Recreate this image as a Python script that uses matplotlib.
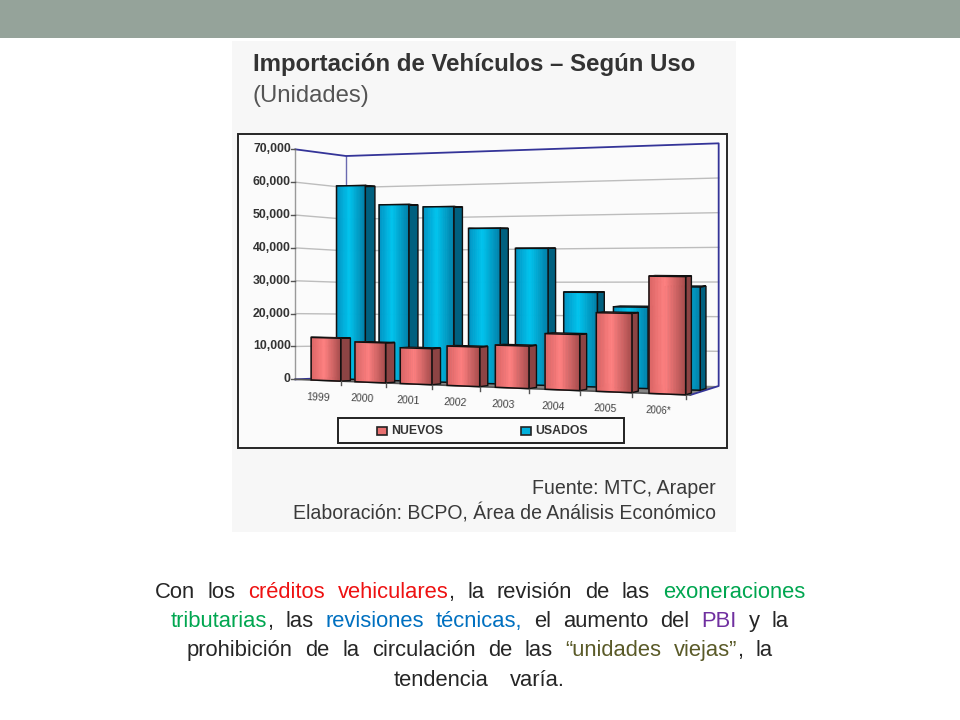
import numpy as np
import matplotlib
matplotlib.use("Agg")
import matplotlib.pyplot as plt
from matplotlib.patches import Polygon, Rectangle
from matplotlib.colors import to_rgb

plt.rcParams['font.family'] = ['Liberation Sans', 'DejaVu Sans']

years = ['1999', '2000', '2001', '2002', '2003', '2004', '2005', '2006*']
nuevos = [12900, 11900, 10600, 11500, 12200, 15900, 22200, 32700]
usados = [59600, 53600, 52800, 46200, 40200, 27400, 23300, 29200]
y_ticks = [0, 10000, 20000, 30000, 40000, 50000, 60000, 70000]
YMAX = 70000

fig = plt.figure(figsize=(9.6, 7.2), dpi=100, facecolor='white')
ax = fig.add_axes([0, 0, 1, 1])
ax.set_xlim(0, 960)
ax.set_ylim(720, 0)
ax.axis('off')


def cat(i):
    """Perspective position of a category along the floor (0..1)."""
    return .04 + .1091 * i + .00187 * i * i


def proj(t, v, w):
    """Category position t, value v, depth w -> canvas position."""
    xf, xb = 190 + 1185 * t, 342 + 1118 * t
    yf, yb = 748 + 47 * t, 742 + 26 * t
    hf, hb = 690 + 70 * t, 664 + 64 * t
    x = xf + (xb - xf) * w
    y0 = yf + (yb - yf) * w
    h = hf + (hb - hf) * w
    return 232 + x / 3, 130 + (y0 - h * v / YMAX) / 3


def shade(c1, c2, c3, f):
    c1, c2, c3 = map(np.array, (to_rgb(c1), to_rgb(c2), to_rgb(c3)))
    if f < .45:
        return c1 + (c2 - c1) * f / .45
    return c2 + (c3 - c2) * (f - .45) / .55


def bar3d(i, val, w0, cols, side, top):
    t0, t1 = cat(i), cat(i + .68)
    w1 = w0 + .2
    base = 3 + i * .01 + (2 if w0 == 0 else 0)
    ax.add_patch(Polygon([proj(t1, 0, w0), proj(t1, val, w0), proj(t1, val, w1), proj(t1, 0, w1)],
                         fc=side, ec='#101010', lw=1.0, zorder=base))
    ax.add_patch(Polygon([proj(t0, val, w0), proj(t1, val, w0), proj(t1, val, w1), proj(t0, val, w1)],
                         fc=top, ec='#101010', lw=1.0, zorder=base))
    n = 24
    z = base + .001
    for k in range(n):
        a = t0 + (t1 - t0) * k / n
        b = t0 + (t1 - t0) * (k + 1) / n
        col = shade(*cols, (k + .5) / n)
        ax.add_patch(Polygon([proj(a, 0, w0), proj(a, val, w0), proj(b, val, w0), proj(b, 0, w0)],
                             fc=col, ec=col, lw=.6, zorder=z))
    ax.add_patch(Polygon([proj(t0, 0, w0), proj(t0, val, w0), proj(t1, val, w0), proj(t1, 0, w0)],
                         fc='none', ec='#101010', lw=1.1, zorder=z + .001))


# slide furniture
ax.add_patch(Rectangle((0, 0), 960, 38, fc='#95a39a', ec='none'))
ax.add_patch(Rectangle((232, 41), 504, 491, fc='#f7f7f7', ec='none'))
ax.add_patch(Rectangle((238, 134), 489, 314, fc='#fbfbfb', ec='#262626', lw=1.4))

ax.text(253, 64, 'Importación de Vehículos – Según Uso', fontsize=17.3, fontweight='bold',
        color='#333333', va='center', ha='left')
ax.text(253, 96, '(Unidades)', fontsize=17.2, color='#555555', va='center', ha='left')
ax.text(716, 488, 'Fuente: MTC, Araper', fontsize=14.1, color='#3a3a3a', va='center', ha='right')
ax.text(716, 513, 'Elaboración: BCPO, Área de Análisis Económico', fontsize=14.07, color='#3a3a3a',
        va='center', ha='right')

# walls, floor and grid
BL = '#343498'
ax.add_patch(Polygon([proj(0, 0, 0), proj(0, 0, 1), proj(1, 0, 1), proj(1, 0, 0)],
                     fc='#858585', ec='none', zorder=1))
for v in y_ticks[1:-1]:
    ax.plot(*zip(proj(0, v, 0), proj(0, v, 1), proj(1, v, 1)), color='#bdbdbd', lw=1, zorder=1)
ax.plot(*zip(proj(0, YMAX, 0), proj(0, YMAX, 1), proj(1, YMAX, 1), proj(1, 0, 1), proj(1, 0, 0)),
        color=BL, lw=1.3, zorder=2)
ax.plot(*zip(proj(0, YMAX, 1), proj(0, 0, 1)), color='#6a6ab0', lw=1, zorder=1.5)
ax.plot(*zip(proj(0, 0, 0), proj(0, YMAX, 0)), color='#9a9a9a', lw=1, zorder=2)
ax.plot(*zip(proj(0, 0, 0), proj(0, 0, 1)), color=BL, lw=1.3, zorder=2)
ax.plot(*zip(proj(0, 0, 0), proj(1, 0, 0)), color='#555555', lw=1.2, zorder=2)

for v in y_ticks:
    x, y = proj(0, v, 0)
    ax.plot([x - 4, x], [y, y], color='#555555', lw=1, zorder=2)
    ax.text(x - 4.5, y, f'{v:,}', fontsize=8.8, fontweight='bold', color='#333333', ha='right', va='center')

for i in range(8):
    bar3d(i, usados[i], .51, ('#0090c0', '#00c4ee', '#007fa8'), '#00607f', '#0a86a8')
for i in range(8):
    bar3d(i, nuevos[i], 0, ('#d96464', '#ff8080', '#a84c4c'), '#8c4444', '#b85c5c')

for i, lab in enumerate(years):
    t = cat(i + .68)
    x, y = proj(t, 0, 0)
    ax.plot([x, x], [y, y + 4], color='#555555', lw=1, zorder=6)
    x, y = proj(cat(i + .17), 0, 0)
    ax.text(x, y + 17, lab, fontsize=7.6 if i < 7 else 7.0, color='#444444', rotation=-3,
            ha='center', va='center', rotation_mode='anchor')

# legend
ax.add_patch(Rectangle((338, 418), 286, 25, fc='#fbfbfb', ec='#222222', lw=1.4, zorder=6))
ax.add_patch(Rectangle((377, 427), 10, 8, fc='#e87070', ec='#222222', lw=1.2, zorder=7))
ax.text(391, 431, 'NUEVOS', fontsize=8.8, fontweight='bold', color='#333333', va='center', zorder=7)
ax.add_patch(Rectangle((521, 427), 10, 8, fc='#00b0dc', ec='#222222', lw=1.2, zorder=7))
ax.text(535, 431, 'USADOS', fontsize=8.8, fontweight='bold', color='#333333', va='center', zorder=7)

# caption, word by word across each line's measured span
K, R, G, B, P, O = '#262626', '#ee1111', '#00a650', '#0070c0', '#7030a0', '#5a5a28'
caption = [
    (155, 805, 591, [('Con', K), ('los', K), ('créditos', R), ('vehiculares', R), (',', K, 1), ('la', K),
                     ('revisión', K), ('de', K), ('las', K), ('exoneraciones', G)]),
    (171, 789, 620, [('tributarias', G), (',', K, 1), ('las', K), ('revisiones', B), ('técnicas,', B), ('el', K),
                     ('aumento', K), ('del', K), ('PBI', P), ('y', K), ('la', K)]),
    (187, 773, 649, [('prohibición', K), ('de', K), ('la', K), ('circulación', K), ('de', K), ('las', K),
                     ('“unidades', O), ('viejas”', O), (',', K, 1), ('la', K)]),
    (394, 565, 679, [('tendencia', K), ('varía.', K)]),
]
fig.canvas.draw()
rend = fig.canvas.get_renderer()
for x0, x1, yc, words in caption:
    arts = [ax.text(0, yc, w[0], color=w[1], fontsize=15.8, va='baseline', ha='left') for w in words]
    wid = [a.get_window_extent(rend).width for a in arts]
    n_gaps = sum(1 for w in words[1:] if len(w) == 2)
    gap = (x1 - x0 - sum(wid)) / max(n_gaps, 1)
    x = x0
    for a, w, wd in zip(arts, words, wid):
        if len(w) == 3:
            x -= gap
        a.set_position((x, yc + 7))
        x += wd + gap

fig.savefig('out.png', dpi=100, facecolor='white')
